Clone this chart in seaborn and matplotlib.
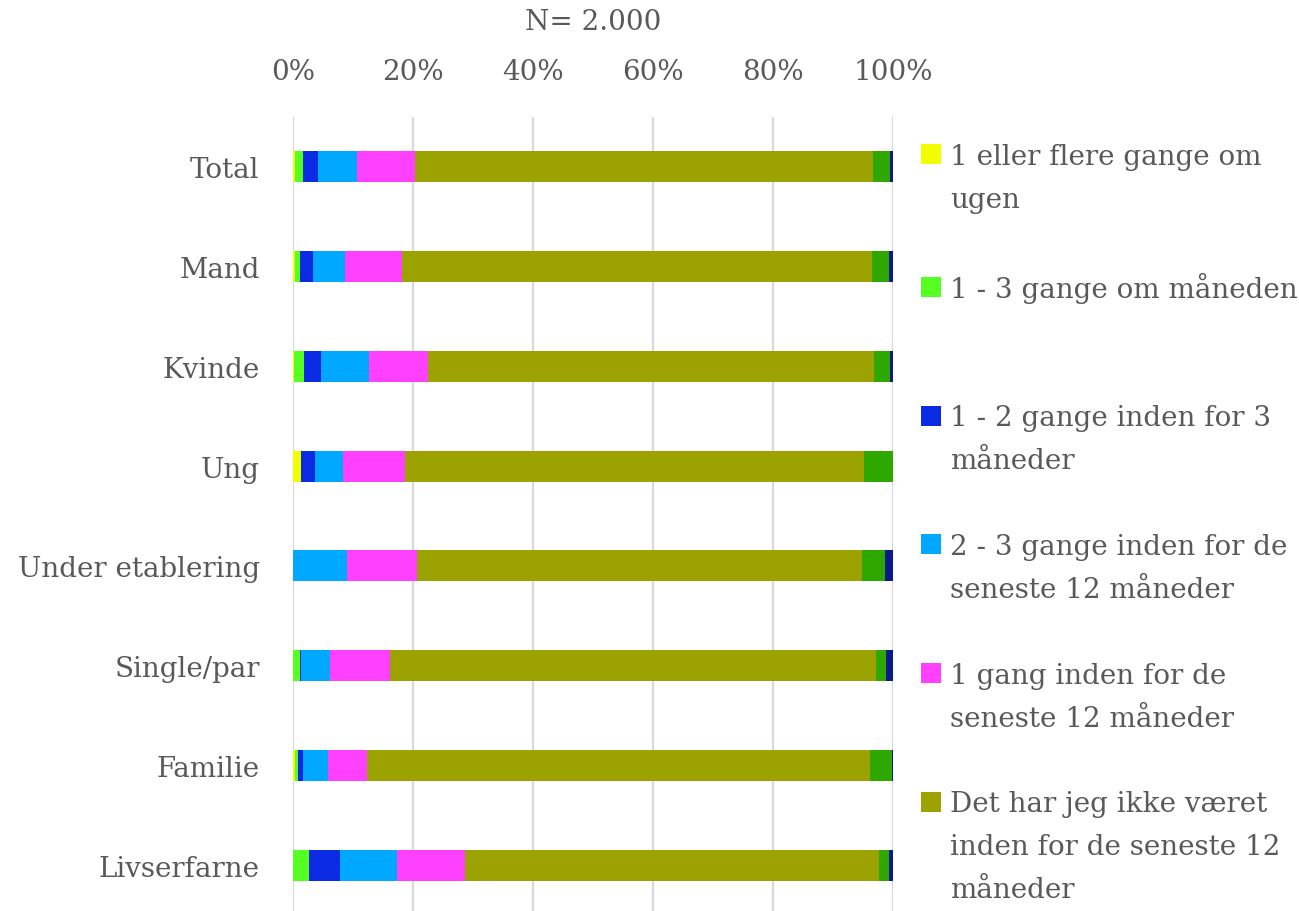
import matplotlib
matplotlib.use("Agg")
import matplotlib.pyplot as plt
import seaborn as sns
import numpy as np
import pandas as pd
from matplotlib.patches import Patch

categories = ["Total", "Mand", "Kvinde", "Ung", "Under etablering", "Single/par", "Familie", "Livserfarne"]

series_names = [
    "1 eller flere gange om\nugen",
    "1 - 3 gange om måneden",
    "1 - 2 gange inden for 3\nmåneder",
    "2 - 3 gange inden for de\nseneste 12 måneder",
    "1 gang inden for de\nseneste 12 måneder",
    "Det har jeg ikke været\ninden for de seneste 12\nmåneder",
    "Ved ikke",
    "Ønsker ikke at svare",
]

s1 = [0.3, 0.3, 0.1, 1.3, 0.0, 0.0, 0.3, 0.0]
s2 = [1.3, 0.8, 1.8, 0.0, 0.0, 1.1, 0.6, 2.7]
s3 = [2.5, 2.2, 2.8, 2.3, 0.0, 0.3, 0.7, 5.2]
s4 = [6.6, 5.4, 7.9, 4.7, 9.0, 4.8, 4.2, 9.4]
s5 = [9.7, 9.4, 9.9, 10.4, 11.6, 10.0, 6.5, 11.3]
s6 = [76.3, 78.4, 74.3, 76.4, 74.3, 80.9, 83.8, 69.0]
s7 = [2.8, 2.9, 2.7, 4.9, 3.8, 1.7, 3.7, 1.8]
s8 = [0.5, 0.6, 0.5, 0.0, 1.3, 1.2, 0.2, 0.6]

colors = ["#F2FF00", "#55FF22", "#0A2BE3", "#00A8FF", "#FF40FF", "#9CA300", "#2EA800", "#0A1A8A"]

legend_count = 6
text_color = "#595959"
fs = 20

sns.set_theme(style="white")
plt.rcParams["font.family"] = ["DejaVu Serif"]

values = np.array([s1, s2, s3, s4, s5, s6, s7, s8])
cum = np.cumsum(values, axis=0)

fig = plt.figure(figsize=(12.99, 9.12), dpi=100)
W, H = 1299, 912
ax_left, ax_right = 293, 893
ax_top, ax_bottom = 118, 916
ax = fig.add_axes([ax_left / W, (H - ax_bottom) / H, (ax_right - ax_left) / W, (ax_bottom - ax_top) / H])

for i in range(len(values) - 1, -1, -1):
    df = pd.DataFrame({"cat": categories, "val": cum[i]})
    sns.barplot(data=df, x="val", y="cat", orient="h", color=colors[i],
                saturation=1, width=0.31, linewidth=0, ax=ax, zorder=3)

ax.set_xlim(0, 100)
ax.set_ylim(7.5, -0.5)
ax.set_xticks([0, 20, 40, 60, 80, 100])
ax.set_xticklabels([f"{t}%" for t in [0, 20, 40, 60, 80, 100]])
ax.xaxis.tick_top()
ax.tick_params(axis="x", length=0, pad=23, labelsize=fs, labelcolor=text_color)
ax.tick_params(axis="y", length=0, pad=24, labelsize=fs, labelcolor=text_color)
ax.set_xlabel("")
ax.set_ylabel("")
ax.grid(axis="x", color="#D9D9D9", linewidth=1.6, zorder=0)
ax.grid(axis="y", visible=False)
ax.set_axisbelow(True)
for sp in ax.spines.values():
    sp.set_visible(False)

fig.text((ax_left + ax_right) / 2 / W, 1 - 22 / H, "N= 2.000", ha="center", va="center",
         fontsize=fs, color=text_color)

# legend: one row per text line, handles only on first line of each entry
handles, labels = [], []
for k in range(legend_count):
    lines = series_names[k].split("\n")
    for j, ln in enumerate(lines):
        if j == 0:
            handles.append(Patch(facecolor=colors[k], edgecolor="none"))
        else:
            handles.append(Patch(facecolor="none", edgecolor="none"))
        labels.append(ln)
    if k < legend_count - 1:
        n_blank = 2 if k == 1 else 1
        for _ in range(n_blank):
            handles.append(Patch(facecolor="none", edgecolor="none"))
            labels.append(" ")

leg = fig.legend(handles, labels, loc="upper left", bbox_to_anchor=(921 / W, 1 - 144 / H),
                 frameon=False, fontsize=fs, labelcolor=text_color,
                 handlelength=0.72, handleheight=0.72, handletextpad=0.32,
                 labelspacing=0.572, borderpad=0, borderaxespad=0)

fig.savefig("out.png", dpi=100, facecolor="white")
